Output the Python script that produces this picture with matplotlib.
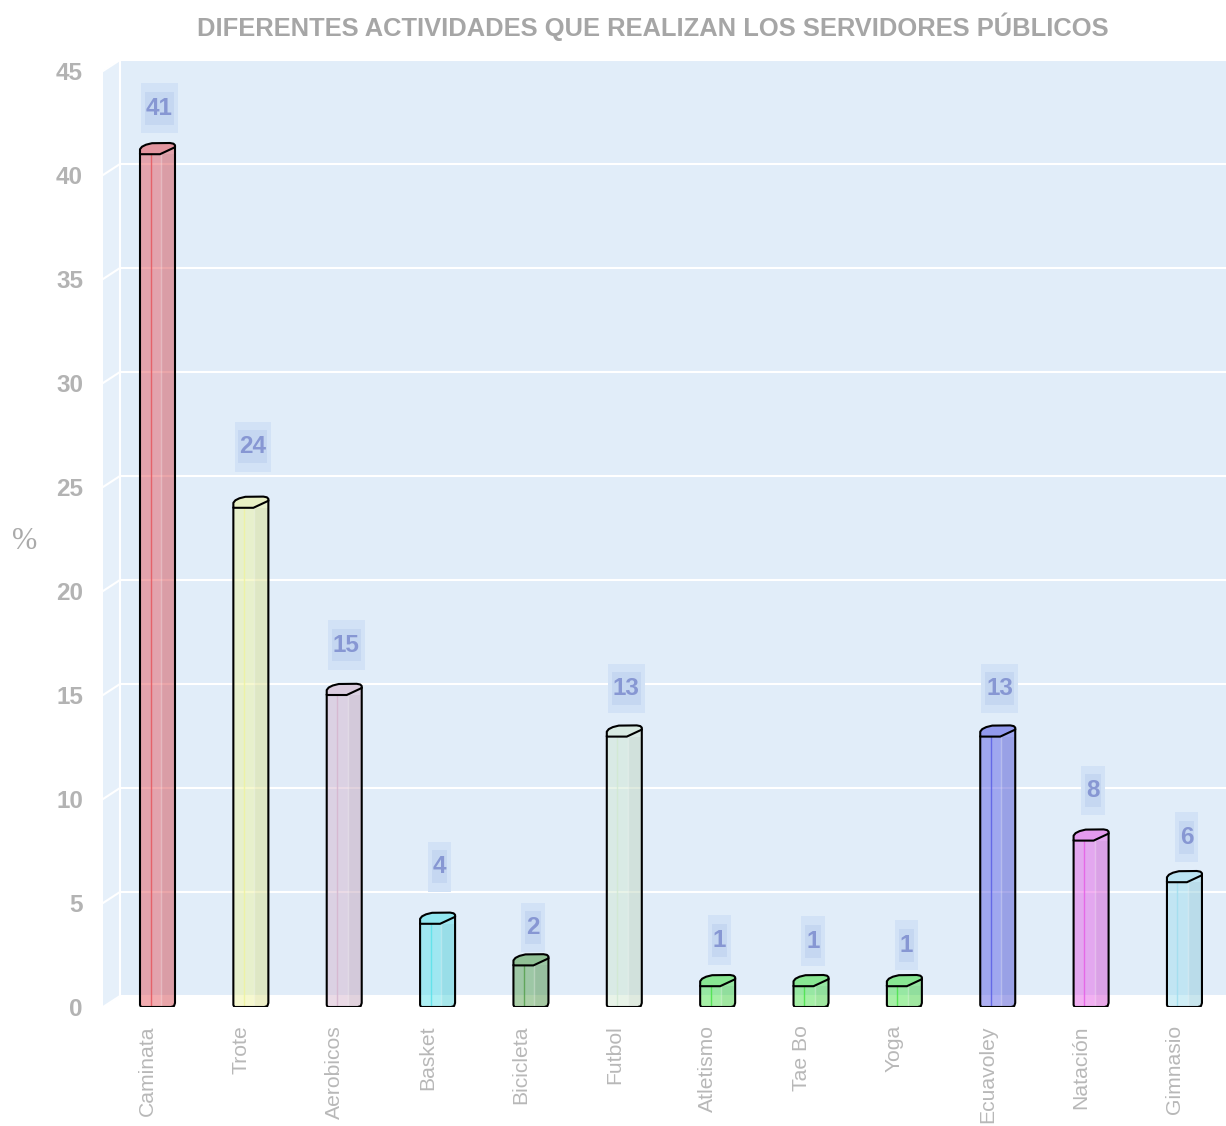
import numpy as np
import matplotlib.pyplot as plt
from matplotlib.patches import Rectangle, Polygon
from matplotlib.path import Path
from matplotlib.transforms import ScaledTranslation

plt.rcParams['font.family'] = ['Liberation Sans', 'DejaVu Sans']

actividades = ["Caminata", "Trote", "Aerobicos", "Basket", "Bicicleta", "Futbol",
               "Atletismo", "Tae Bo", "Yoga", "Ecuavoley", "Natación", "Gimnasio"]
porcentajes = [41, 24, 15, 4, 2, 13, 1, 1, 1, 13, 8, 6]
colores = ["#e65b63", "#eef3a1", "#d6b7cf", "#5ee3eb", "#5aa353", "#d2e9d3",
           "#4ee34f", "#4ee34f", "#4ee34f", "#5e63e7", "#e663e7", "#a2dfef"]
titulo = "DIFERENTES ACTIVIDADES QUE REALIZAN LOS SERVIDORES PÚBLICOS"

# how far each value tag sits above its bar, in pixels
subida = [46, 61, 50, 57, 38, 48, 46, 45, 41, 48, 50, 45]

DPI = 100
W, H = 1226, 1126
fig = plt.figure(figsize=(W / DPI, H / DPI), dpi=DPI)
ax = fig.add_axes([103 / W, 119 / H, 1123 / W, 936 / H])
x0, x1 = -0.5838, 11.445
ax.set_xlim(x0, x1)
ax.set_ylim(0, 45)
ax.patch.set_visible(False)
for s in ax.spines.values():
    s.set_visible(False)

# pixels per data unit
sx = ax.transData.transform((1, 0))[0] - ax.transData.transform((0, 0))[0]
sy = ax.transData.transform((0, 1))[1] - ax.transData.transform((0, 0))[1]

# walls of the 3d box
dx, dy = 17 / sx, 11 / sy
pared = "#e1edf9"
ax.add_patch(Rectangle((x0 + dx, dy), x1 - x0 - dx, 45, fc=pared, lw=0,
                       clip_on=False, zorder=0))
ax.add_patch(Polygon([(x0, 0), (x0 + dx, dy), (x0 + dx, 45 + dy), (x0, 45)],
                     fc="#e6f0fa", lw=0, clip_on=False, zorder=0))
for v in range(0, 46, 5):
    ax.plot([x0 + dx, x1], [v + dy, v + dy], color="white", lw=1.5,
            clip_on=False, zorder=0.5)
    ax.plot([x0, x0 + dx], [v, v + dy], color="white", lw=1.5,
            clip_on=False, zorder=0.5)
ax.plot([x0 + dx, x0 + dx], [dy, 45 + dy], color="white", lw=1.5,
        clip_on=False, zorder=0.5)

# cylinders
bw = 35 / sx
for i, (v, c) in enumerate(zip(porcentajes, colores)):
    xl, xr = i - bw / 2, i + bw / 2
    ax.add_patch(Rectangle((xl, 0), bw, v, fc=c, alpha=0.5, lw=0, zorder=2))
    ax.add_patch(Rectangle((xl + 0.6 * bw, 0), 0.4 * bw, v, fc="black",
                           alpha=0.035, lw=0, zorder=2.1))
    ax.plot([xl + 0.3 * bw] * 2, [0, v], color=c, lw=1, alpha=0.9, zorder=2.2)
    ax.plot([xl + 0.6 * bw] * 2, [0, v], color="white", lw=1, alpha=0.3, zorder=2.2)

    def p(px, py):
        return (xl + px / sx, v + py / sy)

    ax.add_patch(Polygon([p(20, 0), p(35, 0), p(35, 7)], fc=c, alpha=0.5,
                         lw=0, zorder=2))
    tapa = [p(0, 0), p(0, 5), p(2, 7.5), p(6, 9.5), p(12, 11), p(30, 11.2),
            p(33.5, 10.5), p(35, 9), p(35, 7), p(20, 0)]
    ax.add_patch(Polygon(tapa, fc=c, alpha=0.6, ec="none", zorder=2.5))
    ax.add_patch(Polygon(tapa, fc="none", ec="black", lw=1.5, zorder=2.6,
                         joinstyle="round"))
    borde = [p(0, 0), (xl, 2 / sy), (xl + 1 / sx, 0), (xr - 4 / sx, 0),
             (xr - 1 / sx, 1 / sy), (xr, 4 / sy), p(35, 7)]
    bx, by = zip(*borde)
    ax.plot(bx, by, color="black", lw=1.5, zorder=2.6, solid_joinstyle="round")


def caja(padx, pady):
    def estilo(x, y, w, h, mutation_size):
        ex, ey = padx * mutation_size, pady * mutation_size
        return Path([(x - ex, y - ey), (x + w + ex, y - ey), (x + w + ex, y + h + ey),
                     (x - ex, y + h + ey), (x - ex, y - ey)], closed=True)
    return estilo


for i, (v, up) in enumerate(zip(porcentajes, subida)):
    tx, ty = i + 2 / sx, v + up / sy
    ax.text(tx, ty, str(v), ha="center", va="center", fontsize=17.5,
            fontweight="bold", color="none", zorder=3,
            bbox=dict(boxstyle=caja(0.2, 0.55), fc="#d2e2f6", ec="none"))
    ax.text(tx, ty, str(v), ha="center", va="center", fontsize=17.5,
            fontweight="bold", color="#8797d3", zorder=3.1,
            bbox=dict(boxstyle=caja(0.04, 0.2), fc="#c5d7f1", ec="none"))

ax.set_yticks(range(0, 46, 5))
ax.tick_params(axis="y", length=0, pad=14.4, labelsize=17.5, labelcolor="#b3b3b3")
for lab in ax.get_yticklabels():
    lab.set_fontweight("bold")

ax.set_xticks(range(len(actividades)), actividades, rotation=90)
ax.tick_params(axis="x", length=0, pad=13, labelsize=15.2, labelcolor="#b8b8b8")
for lab in ax.get_xticklabels():
    lab.set_transform(lab.get_transform() + ScaledTranslation(-10 / DPI, 0, fig.dpi_scale_trans))

ax.set_ylabel("%", rotation=0, fontsize=22, color="#aaaaaa",
              family=["Liberation Serif", "DejaVu Serif"], ha="center", va="center")
ax.yaxis.set_label_coords(-0.0695, 0.497)

fig.text(653 / W, 1 - 27 / H, titulo, ha="center", va="center", fontsize=18.4,
         fontweight="bold", color="#a6a6a6")

fig.savefig("out.png", dpi=DPI)
